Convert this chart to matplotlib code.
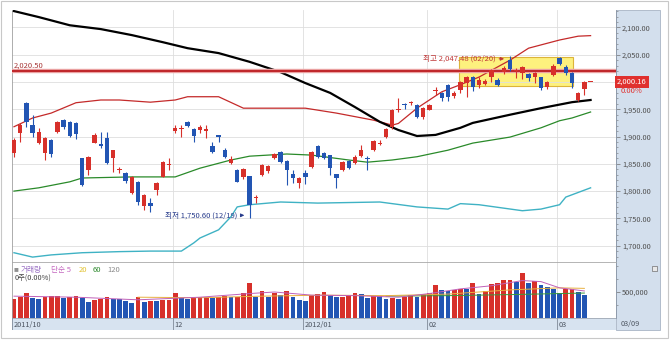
import matplotlib
matplotlib.use("Agg")
import matplotlib.pyplot as plt
from matplotlib.patches import Rectangle
import numpy as np

plt.rcParams['font.family'] = ['Noto Sans CJK KR', 'DejaVu Sans']

# daily candles, 2011/10/26 .. 2012/03/09
opens = [1870, 1907, 1962, 1921, 1888, 1870, 1894, 1908, 1930, 1927,
         1925, 1861, 1839, 1888, 1886, 1897, 1861, 1839, 1833, 1797,
         1817, 1773, 1778, 1802, 1826, 1847, 1910, 1913, 1927, 1914,
         1912, 1911, 1883, 1902, 1875, 1852, 1839, 1826, 1828, 1787,
         1830, 1837, 1861, 1872, 1855, 1832, 1815, 1833, 1844, 1883,
         1870, 1866, 1831, 1839, 1855, 1852, 1865, 1860, 1876, 1887,
         1900, 1917, 1949, 1959, 1961, 1958, 1936, 1949, 1983, 1980,
         1994, 1974, 1985, 1998, 2009, 1995, 1996, 2009, 2004, 2018,
         2040, 2020, 2016, 2015, 2009, 2009, 1991, 2013, 2044, 2027,
         2016, 1967, 1987, 2000.16]
highs = [1898, 1925, 1964, 1940, 1916, 1899, 1895, 1929, 1932, 1929,
         1927, 1861, 1864, 1907, 1908, 1908, 1876, 1845, 1835, 1828,
         1818, 1795, 1788, 1817, 1855, 1860, 1921, 1921, 1929, 1916,
         1921, 1921, 1890, 1903, 1879, 1864, 1840, 1843, 1828, 1793,
         1849, 1847, 1870, 1874, 1857, 1839, 1826, 1839, 1874, 1885,
         1872, 1867, 1832, 1855, 1857, 1866, 1884, 1864, 1894, 1893,
         1916, 1951, 1970, 1962, 1965, 1960, 1955, 1960, 1991, 1982,
         1996, 1983, 2001, 2011, 2011, 2009, 2005, 2024, 2007, 2029,
         2047.48, 2026, 2029, 2016, 2018, 2010, 2002, 2033, 2045, 2031,
         2018, 1981, 2002, 2000.16]
lows = [1862, 1890, 1918, 1900, 1886, 1857, 1863, 1906, 1914, 1899,
        1896, 1810, 1830, 1888, 1879, 1850, 1835, 1834, 1815, 1795,
        1775, 1766, 1762, 1793, 1825, 1838, 1907, 1900, 1918, 1890,
        1906, 1897, 1870, 1890, 1860, 1850, 1816, 1822, 1750.60, 1778,
        1828, 1833, 1859, 1851, 1811, 1815, 1806, 1813, 1843, 1861,
        1858, 1830, 1806, 1837, 1840, 1850, 1862, 1839, 1874, 1884,
        1898, 1914, 1945, 1950, 1958, 1934, 1932, 1948, 1976, 1965,
        1966, 1971, 1980, 1973, 1983, 1989, 1994, 2000, 1993, 2014,
        2020, 2007, 2005, 2002, 1998, 1985, 1987, 2011, 2031, 2013,
        1989, 1965, 1976, 2000.16]
closes = [1894, 1921, 1927, 1907, 1908, 1897, 1868, 1927, 1918, 1901,
          1905, 1811, 1863, 1903, 1883, 1852, 1875, 1840, 1819, 1826,
          1780, 1793, 1773, 1815, 1853, 1849, 1916, 1915, 1920, 1901,
          1918, 1913, 1872, 1900, 1862, 1859, 1817, 1841, 1775, 1790,
          1848, 1846, 1868, 1853, 1839, 1824, 1824, 1826, 1872, 1863,
          1861, 1842, 1824, 1853, 1843, 1863, 1876, 1859, 1892, 1889,
          1914, 1949, 1951, 1957, 1963, 1936, 1952, 1958, 1985, 1971,
          1972, 1980, 2000, 2009, 1991, 2004, 2002, 2022, 1995, 2026,
          2024, 2022, 2027, 2007, 2016, 1989, 2000, 2029, 2033, 2016,
          1998, 1980, 2000.16, 2000.16]
volumes = [372, 405, 487, 390, 375, 395, 420, 430, 385, 410,
           420, 380, 300, 355, 370, 395, 375, 370, 320, 290,
           395, 310, 330, 320, 340, 345, 487, 380, 375, 380,
           405, 410, 380, 410, 430, 410, 410, 480, 680, 410,
           525, 410, 475, 440, 510, 400, 350, 330, 445, 470,
           500, 440, 404, 404, 449, 481, 468, 391, 429, 423,
           372, 385, 372, 404, 449, 404, 462, 487, 628, 532,
           519, 532, 564, 563, 680, 468, 519, 660, 673, 724,
           726, 692, 865, 680, 711, 628, 596, 564, 487, 551,
           556, 500, 436, 0]
volumes = [v * 1000 for v in volumes]

# moving average / band lines
ma_idx = [0, 4, 9, 14, 19, 24, 28, 33, 38, 43, 47, 51, 55, 59, 62, 65, 68, 72, 74, 80, 85, 90, 93]
ma_long = [2130, 2119, 2104, 2097, 2086, 2073, 2062, 2053, 2037, 2018, 1998, 1980, 1954,
           1927, 1912, 1901, 1903, 1916, 1925, 1940, 1952, 1963, 1967]
up_idx = [0, 3, 6, 10, 14, 17, 22, 26, 28, 33, 37, 47, 52, 58, 61, 62, 65, 69, 72, 75, 80, 83, 88, 91, 93]
up_band = [1918, 1934, 1943, 1962, 1967, 1967, 1963, 1967, 1973, 1973, 1952, 1952, 1943,
           1930, 1921, 1924, 1952, 1982, 1995, 2009, 2040, 2062, 2077, 2084, 2085]
mid_idx = [0, 4, 9, 11, 19, 26, 30, 35, 38, 44, 48, 54, 57, 61, 65, 70, 74, 80, 85, 88, 90, 93]
mid_band = [1800, 1806, 1817, 1824, 1826, 1826, 1842, 1857, 1864, 1868, 1866, 1857, 1853,
            1857, 1863, 1875, 1888, 1899, 1916, 1929, 1934, 1945]
lo_idx = [0, 3, 6, 11, 17, 22, 27, 29, 30, 33, 35, 36, 38, 43, 49, 59, 65, 70, 72, 75, 82, 85, 88, 89, 93]
lo_band = [1687, 1679, 1683, 1687, 1689, 1690, 1690, 1705, 1714, 1729, 1753, 1771, 1775,
           1780, 1778, 1780, 1771, 1767, 1777, 1775, 1764, 1767, 1775, 1789, 1806]

vma5_idx = [0, 10, 20, 30, 38, 42, 48, 55, 62, 67, 72, 77, 82, 85, 88, 92]
vma5 = [420, 400, 350, 400, 470, 500, 440, 430, 400, 470, 560, 620, 720, 700, 580, 520]
vma20_idx = [20, 30, 40, 50, 60, 70, 80, 88, 92]
vma20 = [400, 390, 420, 440, 430, 460, 540, 580, 570]
vma60_idx = [60, 70, 80, 92]
vma60 = [420, 430, 450, 480]

month_idx = [0, 26, 47, 67, 88]
month_labels = ['2011/10', '12', '2012/01', '02', '03']
last_date = '03/09'
ref_price = 2020.50
box_idx = (72, 90)
box_vals = (1993, 2046)

W, H = 671, 341
def fx(px):
    return px / W
def fy(py):
    return 1 - py / H

RED = '#d7302a'
BLUE = '#2255b3'

fig = plt.figure(figsize=(W / 100, H / 100), dpi=100)
fig.patches.append(Rectangle((fx(1), fy(338)), fx(668) - fx(1), fy(1) - fy(338),
                             transform=fig.transFigure, facecolor='white',
                             edgecolor='#c8c8c8', lw=0.8, zorder=-2))
fig.patches.append(Rectangle((fx(616), fy(330)), fx(660) - fx(616), fy(10) - fy(330),
                             transform=fig.transFigure, facecolor='#d3dfed',
                             edgecolor='#a8b4c4', lw=0.6, zorder=-1))

ax = fig.add_axes([fx(12), fy(262), fx(616) - fx(12), fy(10) - fy(262)])
axv = fig.add_axes([fx(12), fy(318), fx(616) - fx(12), fy(262) - fy(318)])
axd = fig.add_axes([fx(12), fy(330), fx(616) - fx(12), fy(318) - fy(330)])

x = np.arange(len(closes))
xlim = (-0.32, 97.1)
vlines_x = [m - 0.35 for m in month_idx[1:]]

# ---- price panel
ax.set_xlim(*xlim)
ax.set_ylim(1670, 2132)
ax.set_facecolor('none')
ax.grid(axis='y', color='#dedede', lw=0.6)
for v in vlines_x:
    ax.axvline(v, color='#dedede', lw=0.6, zorder=0)
ax.set_xticks([])
ax.yaxis.tick_right()
yt = list(range(1700, 2101, 50))
ax.set_yticks(yt)
# the 2,000 label sits under the current-price box
ax.set_yticklabels(['' if v == 2000 else f'{v:,.2f}' for v in yt])
ax.set_yticks(range(1680, 2131, 10), minor=True)
ax.tick_params(axis='y', which='major', direction='out', length=3, width=0.5,
               color='#707070', labelsize=5.3, labelcolor='#505050', pad=1.2)
ax.tick_params(axis='y', which='minor', direction='out', length=1.5, width=0.4, color='#707070')
for s in ['top', 'bottom']:
    ax.spines[s].set_visible(False)
ax.spines['left'].set_color('#a0a0a0')
ax.spines['right'].set_color('#8a96a6')
for s in ['left', 'right']:
    ax.spines[s].set_linewidth(0.6)

ax.add_patch(Rectangle((box_idx[0] - 0.3, box_vals[0]), box_idx[1] - box_idx[0] + 0.5,
                       box_vals[1] - box_vals[0], facecolor='#fdf17e', edgecolor='#dcb43a',
                       lw=0.8, zorder=1))

ax.plot(lo_idx, lo_band, color='#3fb2c4', lw=1.0, zorder=2)
ax.plot(mid_idx, mid_band, color='#2a8a2a', lw=0.9, zorder=2)
ax.plot(up_idx, up_band, color='#c42a2a', lw=0.9, zorder=2)
ax.plot(ma_idx, ma_long, color='black', lw=1.6, zorder=3)
ax.axhline(ref_price, color='#f0b0b0', lw=3.2, zorder=3)
ax.axhline(ref_price, color='#c0282c', lw=1.6, zorder=3)
ax.text(0.0, ref_price + 3, f'{ref_price:,.2f}', color='#a83838', fontsize=5.5,
        ha='left', va='bottom', zorder=4)

o = np.array(opens)
c = np.array(closes)
cols = [RED if cc >= oo else BLUE for oo, cc in zip(o, c)]
ax.vlines(x, lows, highs, colors=cols, lw=0.8, zorder=4)
ax.bar(x, np.maximum(np.abs(c - o), 1.2), bottom=np.minimum(o, c), width=0.72,
       color=cols, zorder=5)

hi = int(np.argmax(highs))
lo = int(np.argmin(lows))
ax.text(hi - 2.3, highs[hi] - 5, f'최고 {highs[hi]:,.2f} (02/20)', color='#c03838',
        fontsize=5.5, ha='right', va='center', zorder=6)
ax.annotate('', xy=(hi - 0.5, highs[hi] - 5), xytext=(hi - 2.2, highs[hi] - 5),
            arrowprops=dict(arrowstyle='-|>', color='#c03838', lw=0.7,
                            mutation_scale=5), zorder=6)
ax.text(lo - 1.9, lows[lo] + 5, f'최저 {lows[lo]:,.2f} (12/19)', color='#283c8c',
        fontsize=5.5, ha='right', va='center', zorder=6)
ax.annotate('', xy=(lo - 0.4, lows[lo] + 5), xytext=(lo - 1.8, lows[lo] + 5),
            arrowprops=dict(arrowstyle='-|>', color='#283c8c', lw=0.7,
                            mutation_scale=5), zorder=6)

ax.text(1.002, closes[-1], f'{closes[-1]:,.2f}', transform=ax.get_yaxis_transform(),
        color='white', fontsize=5.5, ha='left', va='center', zorder=7, clip_on=False,
        bbox=dict(boxstyle='square,pad=0.25', facecolor='#e0302e', edgecolor='none'))
chg = (closes[-1] - closes[-2]) / closes[-2] * 100
ax.text(1.008, closes[-1] - 16, f'{chg:.2f}%', transform=ax.get_yaxis_transform(),
        color='#e0302e', fontsize=5.5, ha='left', va='center', clip_on=False)

# ---- volume panel
vcols = [RED] + [RED if volumes[i] >= volumes[i - 1] else BLUE for i in range(1, len(volumes))]
axv.set_xlim(*xlim)
axv.set_ylim(0, 1077000)
axv.set_facecolor('none')
for v in vlines_x:
    axv.axvline(v, color='#dedede', lw=0.6, zorder=0)
axv.bar(x, volumes, width=0.8, color=vcols, zorder=2)
axv.plot(vma60_idx, [v * 1000 for v in vma60], color='#3a9a3a', lw=0.7, zorder=3)
axv.plot(vma20_idx, [v * 1000 for v in vma20], color='#e8b040', lw=0.7, zorder=3)
axv.plot(vma5_idx, [v * 1000 for v in vma5], color='#c060b8', lw=0.7, zorder=3)
axv.set_xticks([])
axv.yaxis.tick_right()
axv.set_yticks([500000])
axv.set_yticklabels(['500,000'])
axv.set_yticks([250000, 750000, 1000000], minor=True)
axv.tick_params(axis='y', which='major', direction='out', length=3, width=0.5,
                color='#707070', labelsize=5.3, labelcolor='#505050', pad=1.2)
axv.tick_params(axis='y', which='minor', direction='out', length=1.5, width=0.4, color='#707070')
axv.spines['bottom'].set_visible(False)
axv.spines['top'].set_color('#a8a8a8')
axv.spines['left'].set_color('#a0a0a0')
axv.spines['right'].set_color('#8a96a6')
for s in ['top', 'left', 'right']:
    axv.spines[s].set_linewidth(0.6)

legend_parts = [('■', 14, '#909090', 3.5), ('거래량', 21, '#9a70c4', 5.5), ('단순 5', 51, '#c468c0', 5.5),
                ('20', 79, '#e2c232', 5.5), ('60', 93, '#2e8a2e', 5.5), ('120', 107, '#8a8a8a', 5.5)]
for txt, px, col, fs in legend_parts:
    fig.text(fx(px), fy(270), txt, color=col, fontsize=fs, ha='left', va='center')
fig.text(fx(15), fy(279), f'{volumes[-1]:,}주({0:.2f}%)', color='#404040',
         fontsize=5.3, ha='left', va='center')
fig.patches.append(Rectangle((fx(652), fy(271)), fx(657) - fx(652), fy(266) - fy(271),
                             transform=fig.transFigure, facecolor='#e8e8e8',
                             edgecolor='#707070', lw=0.5))

# ---- date strip
axd.set_xlim(*xlim)
axd.set_ylim(0, 1)
axd.set_facecolor('#d7e3f0')
axd.set_xticks([])
axd.set_yticks([])
for s in axd.spines.values():
    s.set_visible(False)
axd.axhline(1, color='#a0a8b4', lw=0.6)
for m, lab in zip(month_idx, month_labels):
    xm = m - 0.35 if m > 0 else xlim[0]
    axd.axvline(xm, color='#7f8a98', lw=0.6)
    axd.text(xm + 0.2, 0.45, lab, color='#4c5460', fontsize=5.3, ha='left', va='center')
fig.text(fx(621), fy(324), last_date, color='#4c5460', fontsize=5.3, ha='left', va='center')

fig.savefig('out.png', dpi=100)
